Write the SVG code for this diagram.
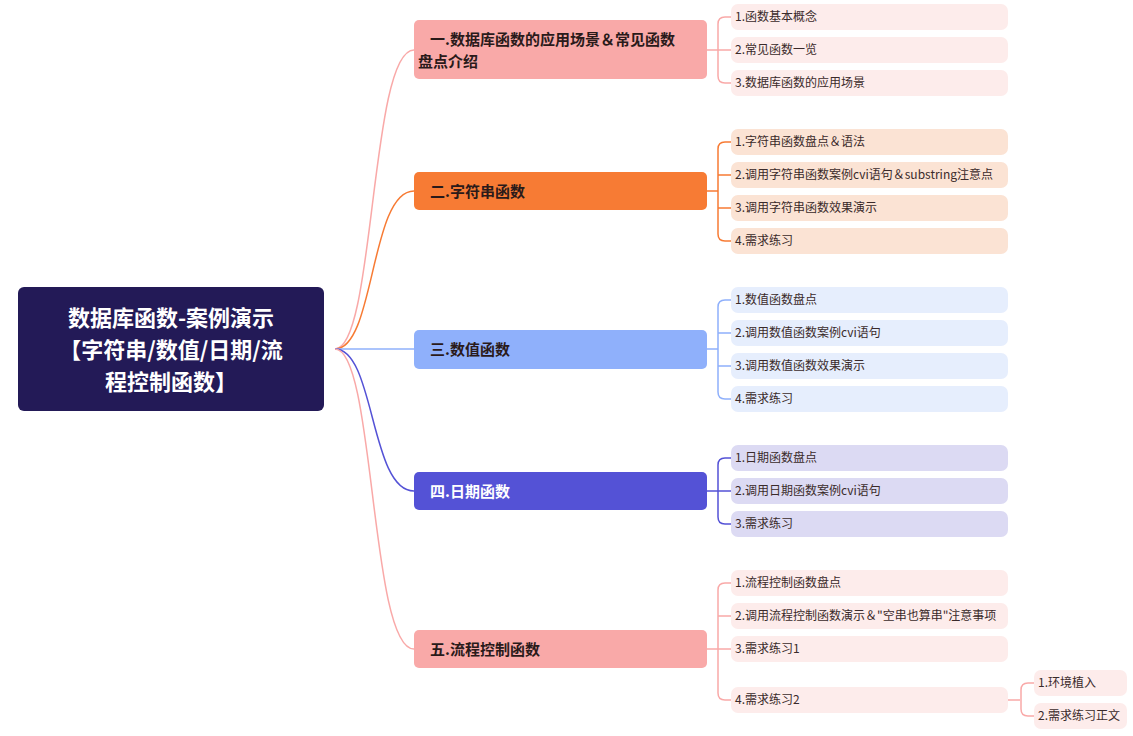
<svg xmlns="http://www.w3.org/2000/svg" width="1133" height="736" viewBox="0 0 1133 736">
<style>
text{font-family:"Noto Sans CJK SC","Noto Sans",sans-serif}
.lf{font-size:12px;fill:#3a2a2a}
.mn{font-size:15px;font-weight:bold;fill:#2a1a1a}
.c{fill:none;stroke-width:1.5}
</style>
<rect width="1133" height="736" fill="#fff"/>
<g id="connectors">
<path class="c" stroke="#f9a9a8" d="M335 349 C375 349 370 50 414 50"/>
<path class="c" stroke="#f77b34" d="M335 349 C375 349 370 191 414 191"/>
<path class="c" stroke="#8fb0fb" d="M335 349 L414 349"/>
<path class="c" stroke="#5452d6" d="M335 349 C375 349 370 491 414 491"/>
<path class="c" stroke="#f9a9a8" d="M335 349 C375 349 370 649 414 649"/>
<g stroke="#f9a9a8" class="c"><path d="M707 50 H731 M731 17 H725 Q718 17 718 24 V76 Q718 83 725 83 H731"/></g>
<g stroke="#f77b34" class="c"><path d="M707 191 H718 M731 142 H725 Q718 142 718 149 V234 Q718 241 725 241 H731 M718 175 H731 M718 208 H731"/></g>
<g stroke="#8fb0fb" class="c"><path d="M707 349 H718 M731 300 H725 Q718 300 718 307 V392 Q718 399 725 399 H731 M718 333 H731 M718 366 H731"/></g>
<g stroke="#5452d6" class="c"><path d="M707 491 H731 M731 458 H725 Q718 458 718 465 V517 Q718 524 725 524 H731"/></g>
<g stroke="#f9a9a8" class="c"><path d="M707 649 H731 M731 583 H725 Q718 583 718 590 V693 Q718 700 725 700 H731 M718 616 H731"/>
<path d="M1008 700 H1020 M1034 683 H1028 Q1021 683 1021 690 V709 Q1021 716 1028 716 H1034"/></g>
</g>
<g id="root"><rect x="18" y="287" width="306" height="124" rx="6" fill="#231a57"/>
<text x="171" y="326" text-anchor="middle" font-size="22" font-weight="bold" fill="#fff">数据库函数-案例演示</text>
<text x="171" y="358" text-anchor="middle" font-size="22" font-weight="bold" fill="#fff">【字符串/数值/日期/流</text>
<text x="171" y="390" text-anchor="middle" font-size="22" font-weight="bold" fill="#fff">程控制函数】</text></g>
<g id="m1"><rect x="414" y="20" width="293" height="59" rx="5" fill="#f9a9a8"/><text class="mn" x="430" y="45">一.数据库函数的应用场景＆常见函数</text><text class="mn" x="418" y="67">盘点介绍</text></g>
<g id="m2"><rect x="414" y="172" width="293" height="38" rx="5" fill="#f77b34"/><text class="mn" x="430" y="197">二.字符串函数</text></g>
<g id="m3"><rect x="414" y="330" width="293" height="39" rx="5" fill="#8fb0fb"/><text class="mn" x="430" y="355">三.数值函数</text></g>
<g id="m4"><rect x="414" y="472" width="293" height="38" rx="5" fill="#5452d6"/><text class="mn" x="430" y="497" fill="#fff" style="fill:#fff">四.日期函数</text></g>
<g id="m5"><rect x="414" y="630" width="293" height="38" rx="5" fill="#f9a9a8"/><text class="mn" x="430" y="655">五.流程控制函数</text></g>
<g fill="#fdeceb">
<g id="l11"><rect x="731" y="4" width="277" height="26" rx="7"/><text class="lf" x="735" y="21">1.函数基本概念</text></g>
<g id="l12"><rect x="731" y="37" width="277" height="26" rx="7"/><text class="lf" x="735" y="54">2.常见函数一览</text></g>
<g id="l13"><rect x="731" y="70" width="277" height="26" rx="7"/><text class="lf" x="735" y="87">3.数据库函数的应用场景</text></g>
</g>
<g fill="#fbe3d4">
<g id="l21"><rect x="731" y="129" width="277" height="26" rx="7"/><text class="lf" x="735" y="146">1.字符串函数盘点＆语法</text></g>
<g id="l22"><rect x="731" y="162" width="277" height="26" rx="7"/><text class="lf" x="735" y="179">2.调用字符串函数案例cvi语句＆substring注意点</text></g>
<g id="l23"><rect x="731" y="195" width="277" height="26" rx="7"/><text class="lf" x="735" y="212">3.调用字符串函数效果演示</text></g>
<g id="l24"><rect x="731" y="228" width="277" height="26" rx="7"/><text class="lf" x="735" y="245">4.需求练习</text></g>
</g>
<g fill="#e6eefd">
<g id="l31"><rect x="731" y="287" width="277" height="26" rx="7"/><text class="lf" x="735" y="304">1.数值函数盘点</text></g>
<g id="l32"><rect x="731" y="320" width="277" height="26" rx="7"/><text class="lf" x="735" y="337">2.调用数值函数案例cvi语句</text></g>
<g id="l33"><rect x="731" y="353" width="277" height="26" rx="7"/><text class="lf" x="735" y="370">3.调用数值函数效果演示</text></g>
<g id="l34"><rect x="731" y="386" width="277" height="26" rx="7"/><text class="lf" x="735" y="403">4.需求练习</text></g>
</g>
<g fill="#dcdaf3">
<g id="l41"><rect x="731" y="445" width="277" height="26" rx="7"/><text class="lf" x="735" y="462">1.日期函数盘点</text></g>
<g id="l42"><rect x="731" y="478" width="277" height="26" rx="7"/><text class="lf" x="735" y="495">2.调用日期函数案例cvi语句</text></g>
<g id="l43"><rect x="731" y="511" width="277" height="26" rx="7"/><text class="lf" x="735" y="528">3.需求练习</text></g>
</g>
<g fill="#fdeceb">
<g id="l51"><rect x="731" y="570" width="277" height="26" rx="7"/><text class="lf" x="735" y="587">1.流程控制函数盘点</text></g>
<g id="l52"><rect x="731" y="603" width="277" height="26" rx="7"/><text class="lf" x="735" y="620">2.调用流程控制函数演示＆"空串也算串"注意事项</text></g>
<g id="l53"><rect x="731" y="636" width="277" height="26" rx="7"/><text class="lf" x="735" y="653">3.需求练习1</text></g>
<g id="l54"><rect x="731" y="687" width="277" height="26" rx="7"/><text class="lf" x="735" y="704">4.需求练习2</text></g>
<g id="l541"><rect x="1034" y="670" width="93" height="26" rx="7"/><text class="lf" x="1038" y="687">1.环境植入</text></g>
<g id="l542"><rect x="1034" y="703" width="93" height="26" rx="7"/><text class="lf" x="1038" y="720">2.需求练习正文</text></g>
</g>
</svg>
